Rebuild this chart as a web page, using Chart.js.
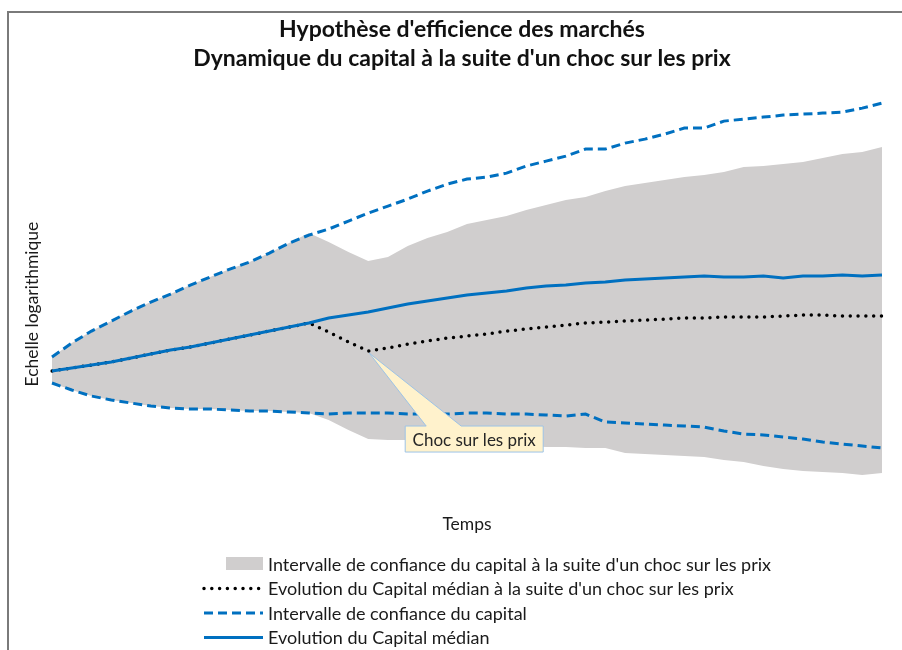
<!DOCTYPE html>
<html>
  <head>
    <meta charset="utf-8">
    <title>Hypothèse d'efficience des marchés</title>
    <style>
      body { margin: 0; background: #fff; }
    </style>
  </head>
  <body>

    <canvas id="chocChart" width="902" height="650"></canvas>

    <script src="https://cdn.jsdelivr.net/npm/chart.js@4.4.1/dist/chart.umd.min.js"></script>

    <script>

      // periodes (axe "Temps", sans graduation)
      const periodes = [0, 1, 2, 3, 4, 5, 6, 7, 8, 9, 10, 11, 12, 13, 14, 15, 16, 17, 18, 19, 20,
        21, 22, 23, 24, 25, 26, 27, 28, 29, 30, 31, 32, 33, 34, 35, 36, 37, 38, 39, 40, 41, 42];

      // capital median, sans choc
      const capitalMedian = [129, 132, 135, 138, 142, 146, 150, 153, 157, 161, 165, 169, 173, 177, 182,
        185, 188, 192, 196, 199, 202, 205, 207, 209, 212, 214, 215, 217, 218, 220, 221, 222, 223, 224,
        223, 223, 224, 222, 224, 224, 225, 224, 225];

      // capital median apres le choc sur les prix
      const capitalMedianChoc = [129, 132, 135, 138, 142, 146, 150, 153, 157, 161, 165, 169, 173, 177, 168,
        158, 149, 152, 156, 159, 162, 164, 166, 169, 171, 173, 175, 177, 178, 179, 180, 181, 182, 182,
        183, 183, 183, 184, 185, 185, 184, 184, 184];

      // intervalle de confiance du capital
      const intervalleHaut = [143, 157, 169, 179, 189, 198, 206, 215, 223, 231, 238, 247, 257, 265, 271,
        279, 287, 294, 301, 309, 316, 321, 323, 327, 334, 339, 344, 351, 351, 357, 361, 366, 372, 372,
        379, 381, 383, 385, 386, 387, 388, 392, 397];
      const intervalleBas = [117, 110, 104, 100, 97, 94, 92, 91, 91, 90, 89, 89, 88, 87, 86, 87, 87, 87,
        86, 86, 86, 87, 87, 86, 86, 85, 84, 86, 78, 77, 76, 75, 74, 73, 69, 66, 65, 63, 61, 58, 56, 54, 52];

      // intervalle de confiance apres le choc
      const intervalleChocHaut = [143, 157, 169, 179, 189, 198, 206, 215, 223, 231, 238, 247, 257, 267, 258,
        248, 239, 243, 254, 262, 268, 276, 280, 284, 290, 295, 300, 303, 309, 314, 317, 320, 323, 325,
        328, 333, 334, 336, 338, 342, 346, 348, 353];
      const intervalleChocBas = [117, 110, 104, 100, 97, 94, 92, 91, 91, 90, 89, 89, 88, 87, 80, 70, 61,
        60, 60, 60, 59, 58, 57, 56, 54, 53, 53, 52, 52, 47, 46, 45, 44, 43, 40, 38, 34, 31, 29, 28, 27, 25, 27];

      const indexChoc = 16;

      const bleu = "#0070c0";
      const gris = "#d0cece";
      const police = "Lato, 'Noto Sans', sans-serif";

      // cadre + fond blanc
      const cadre = {
        id: "cadre",
        beforeDraw(chart) {
          const c = chart.ctx;
          c.save();
          c.fillStyle = "#fff";
          c.fillRect(0, 0, chart.width, chart.height);
          c.strokeStyle = "#7a7a7a";
          c.lineWidth = 2;
          c.beginPath();
          c.moveTo(8, chart.height);
          c.lineTo(8, 12);
          c.lineTo(chart.width, 12);
          c.stroke();
          c.restore();
        }
      };

      // bulle "Choc sur les prix"
      const bulle = {
        id: "bulle",
        afterDatasetsDraw(chart) {
          const pt = chart.getDatasetMeta(1).data[indexChoc];
          const c = chart.ctx;
          const x0 = pt.x + 37, y0 = pt.y + 75, w = 138, h = 26;
          c.save();
          c.beginPath();
          c.moveTo(x0, y0);
          c.lineTo(pt.x + 58, y0);
          c.lineTo(pt.x + 1, pt.y + 2);
          c.lineTo(pt.x + 93, y0);
          c.lineTo(x0 + w, y0);
          c.lineTo(x0 + w, y0 + h);
          c.lineTo(x0, y0 + h);
          c.closePath();
          c.fillStyle = "#fff2cc";
          c.fill();
          c.strokeStyle = "#9dc3e6";
          c.lineWidth = 1;
          c.stroke();
          c.fillStyle = "#262626";
          c.font = "17px " + police;
          c.textAlign = "center";
          c.textBaseline = "middle";
          c.fillText("Choc sur les prix", x0 + w / 2, y0 + h / 2 + 1);
          c.restore();
        }
      };

      // legende verticale sous le graphique
      const legende = {
        id: "legende",
        afterDraw(chart) {
          const c = chart.ctx;
          const items = [
            { ds: 5, type: "boite" },
            { ds: 1, type: "ligne" },
            { ds: 2, type: "ligne" },
            { ds: 0, type: "ligne" }
          ];
          const xs = 204, xe = 263, xt = 268;
          let y = 564;
          c.save();
          c.font = "18px " + police;
          c.textBaseline = "middle";
          for (const it of items) {
            const d = chart.data.datasets[it.ds];
            if (it.type == "boite") {
              c.fillStyle = gris;
              c.fillRect(xe - 37, y - 7, 37, 13);
            } else {
              c.strokeStyle = d.borderColor;
              c.lineWidth = d.borderWidth;
              c.lineCap = d.borderCapStyle || "butt";
              c.setLineDash(d.borderDash || []);
              c.beginPath();
              c.moveTo(xs, y);
              c.lineTo(xe, y);
              c.stroke();
              c.setLineDash([]);
            }
            c.fillStyle = "#1a1a1a";
            c.fillText(d.label, xt, y + 1);
            y += 24.5;
          }
          c.restore();
        }
      };

      const ctx = document.getElementById("chocChart").getContext("2d");

      const chart = new Chart(ctx, {
        type: "line",
        data: {
          labels: periodes,
          datasets: [
            {
              label: "Evolution du Capital médian",
              data: capitalMedian,
              borderColor: bleu,
              borderWidth: 3,
              pointRadius: 0,
              fill: false,
              order: 0
            },
            {
              label: "Evolution du Capital médian à la suite d'un choc sur les prix",
              data: capitalMedianChoc,
              borderColor: "#000",
              borderWidth: 3.5,
              borderDash: [0, 7.8],
              borderCapStyle: "round",
              pointRadius: 0,
              fill: false,
              order: 1
            },
            {
              label: "Intervalle de confiance du capital",
              data: intervalleHaut,
              borderColor: bleu,
              borderWidth: 3,
              borderDash: [9, 5],
              pointRadius: 0,
              fill: false,
              order: 2
            },
            {
              label: "Intervalle de confiance du capital (bas)",
              data: intervalleBas,
              borderColor: bleu,
              borderWidth: 3,
              borderDash: [9, 5],
              pointRadius: 0,
              fill: false,
              order: 2
            },
            {
              label: "Intervalle choc (bas)",
              data: intervalleChocBas,
              borderWidth: 0,
              borderColor: "rgba(0,0,0,0)",
              pointRadius: 0,
              fill: false,
              order: 10
            },
            {
              label: "Intervalle de confiance du capital à la suite d'un choc sur les prix",
              data: intervalleChocHaut,
              borderWidth: 0,
              borderColor: "rgba(0,0,0,0)",
              backgroundColor: gris,
              pointRadius: 0,
              fill: 4,
              order: 10
            }
          ]
        },
        options: {
          responsive: false,
          animation: false,
          layout: { padding: { top: 6, left: 22, right: 0, bottom: 110 } },
          plugins: {
            legend: { display: false },
            tooltip: { enabled: false },
            filler: { drawTime: "beforeDatasetsDraw" },
            title: {
              display: true,
              text: ["Hypothèse d'efficience des marchés", "Dynamique du capital à la suite d'un choc sur les prix"],
              color: "#111",
              font: { family: police, size: 23, weight: "bold", lineHeight: 1.22 },
              padding: { top: 10, bottom: 28 }
            }
          },
          scales: {
            x: {
              ticks: { display: false },
              grid: { display: false },
              border: { display: false },
              title: { display: true, text: "Temps", color: "#1a1a1a", font: { family: police, size: 17.5 }, padding: { top: 0, bottom: 5 } },
              afterFit(scale) { scale.height = 32; }
            },
            y: {
              min: -8,
              max: 400,
              ticks: { display: false },
              grid: { display: false },
              border: { display: false },
              title: { display: true, text: "Echelle logarithmique", color: "#1a1a1a", font: { family: police, size: 17.5 }, padding: 0 },
              afterFit(scale) { scale.width = 30; }
            },
            droite: {
              position: "right",
              ticks: { display: false },
              grid: { display: false },
              border: { display: false },
              afterFit(scale) { scale.width = 20; }
            }
          }
        },
        plugins: [cadre, bulle, legende]
      });

    </script>
  </body>
</html>
